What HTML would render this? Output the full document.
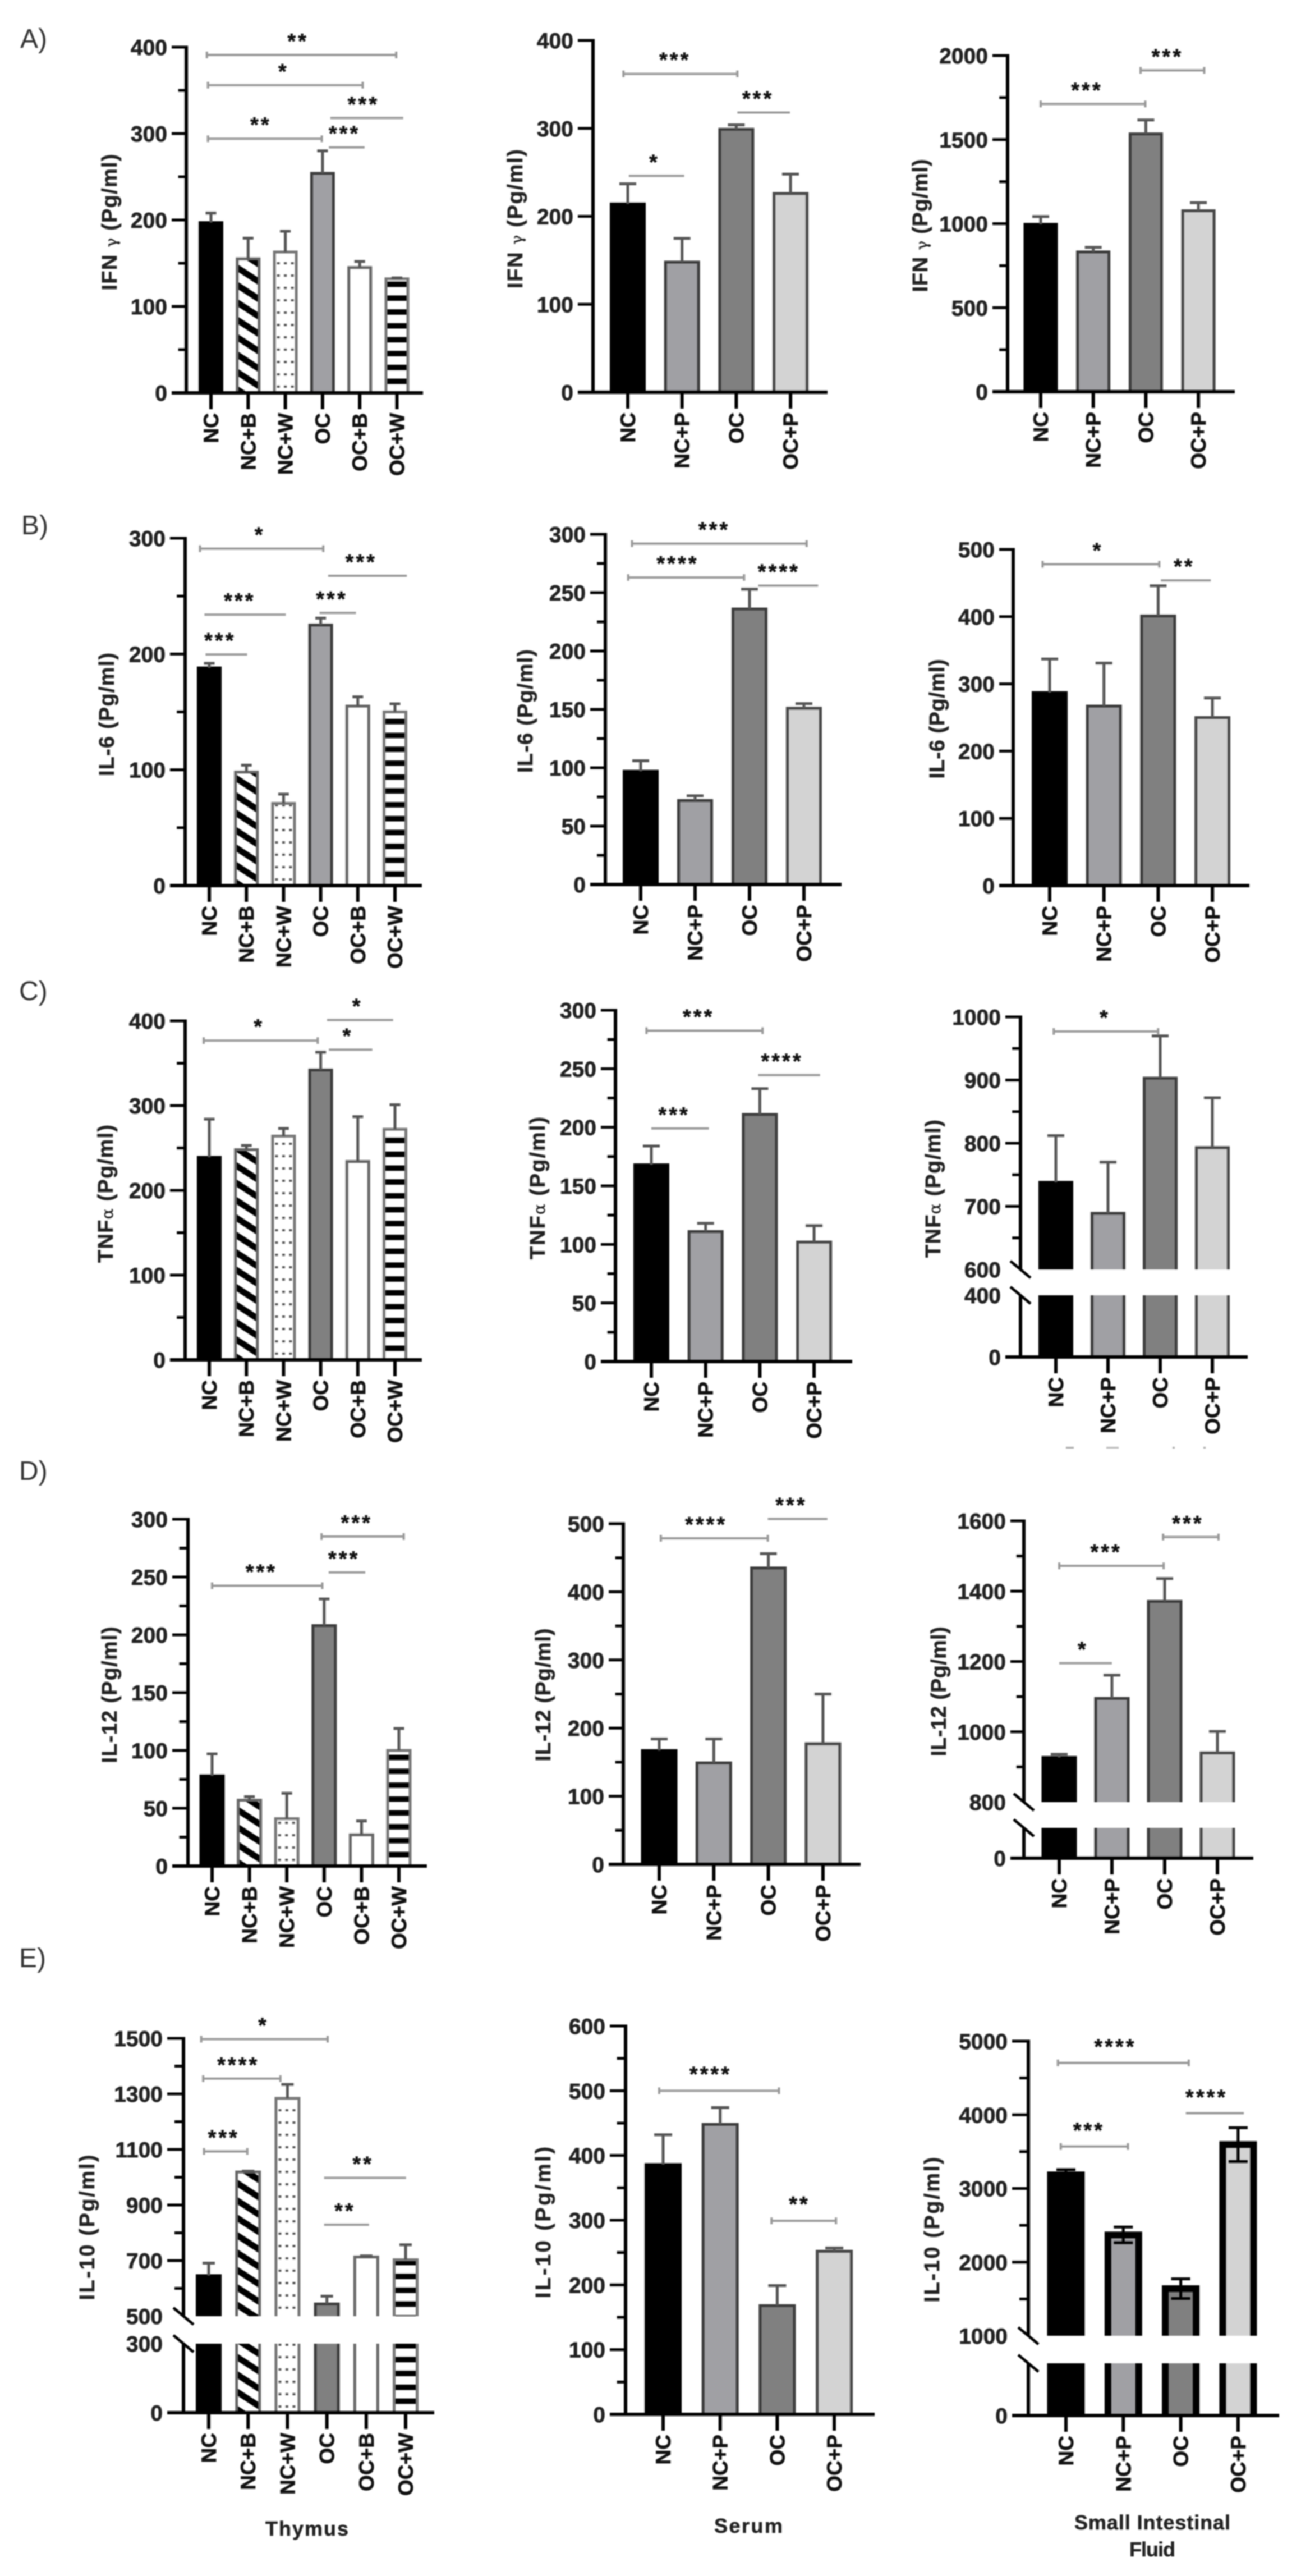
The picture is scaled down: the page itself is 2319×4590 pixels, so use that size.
<!DOCTYPE html>
<html lang="en">
<head>
<meta charset="utf-8">
<title>Cytokine levels by group</title>
<style>
html,body{margin:0;padding:0;background:#fff;}
#figure{display:block;filter:blur(1.1px);}
text{font-family:"Liberation Sans",sans-serif;}
</style>
</head>
<body>
<svg id="figure" xmlns="http://www.w3.org/2000/svg" width="2319" height="4590" viewBox="0 0 2319 4590">
  <rect x="0" y="0" width="2319" height="4590" fill="#ffffff"/>
  <defs id="patterns"></defs>
  <text x="36" y="85" font-size="48" fill="#333">A)</text>
  <text x="38" y="952" font-size="48" fill="#333">B)</text>
  <text x="34" y="1782" font-size="48" fill="#333">C)</text>
  <text x="34" y="2637" font-size="48" fill="#333">D)</text>
  <text x="34" y="3505" font-size="48" fill="#333">E)</text>
  <text x="547" y="4518" font-size="36" font-weight="bold" text-anchor="middle" textLength="148" stroke="#222" stroke-width="0.5" fill="#222">Thymus</text>
  <text x="1334" y="4513" font-size="36" font-weight="bold" text-anchor="middle" textLength="122" stroke="#222" stroke-width="0.5" fill="#222">Serum</text>
  <text x="2054" y="4507" font-size="36" font-weight="bold" text-anchor="middle" textLength="278" stroke="#222" stroke-width="0.5" fill="#222">Small Intestinal</text>
  <text x="2054" y="4555" font-size="36" font-weight="bold" text-anchor="middle" textLength="82" stroke="#222" stroke-width="0.5" fill="#222">Fluid</text>
  <rect x="1900" y="2578" width="14" height="3" fill="#aaa"/>
  <rect x="1972" y="2578" width="22" height="3" fill="#bbb"/>
  <rect x="2090" y="2578" width="4" height="3" fill="#aaa"/>
  <rect x="2145" y="2578" width="4" height="3" fill="#aaa"/>
</svg>
<script>
/* ---------- shared categories ---------- */
const sixGroups = ['NC','NC+B','NC+W','OC','OC+B','OC+W'];
const fourGroups = ['NC','NC+P','OC','OC+P'];

/* ---------- row A: IFN gamma ---------- */
const a1Values = [197,155,163,254,145,132];
const a1Errors = [11,24,24,26,7,1];
const a1Ticks = [0,100,200,300,400];
const a1Minor = [50,150,250,350];
const a1Brackets = [[-0.11,4.98,391,'**',2.34,1],[-0.08,4.08,356,'*',1.95,1],[3.21,5.17,318,'***',4.1,0],[3.17,4.13,284,'***',3.59,0],[-0.08,2.98,294,'**',1.34,1]];

const a2Values = [214,148,299,226];
const a2Errors = [23,27,5,22];
const a2Ticks = [0,100,200,300,400];
const a2Minor = [];
const a2Brackets = [[-0.08,2.02,362,'***',0.87,1],[2.02,2.99,318,'***',2.4,0],[0.02,1.04,246,'*',0.49,0]];

const a3Values = [996,832,1534,1077];
const a3Errors = [46,27,83,48];
const a3Ticks = [0,500,1000,1500,2000];
const a3Minor = [250,750,1250,1750];
const a3Brackets = [[1.9,3.11,1912,'***',2.41,1],[0,1.99,1712,'***',0.88,1]];

/* ---------- row B: IL-6 ---------- */
const b1Values = [188,98,71,225,155,150];
const b1Errors = [4,6,8,6,8,7];
const b1Ticks = [0,100,200,300];
const b1Minor = [50,150,250];
const b1Brackets = [[-0.25,3.07,291,'*',1.36,1],[3.2,5.32,267.5,'***',4.09,0],[-0.13,2.06,234,'***',0.82,0],[2.97,3.95,235.5,'***',3.3,0],[-0.1,1.02,199.6,'***',0.29,0]];

const b2Values = [97,72,236,151];
const b2Errors = [9,4,17,4];
const b2Ticks = [0,50,100,150,200,250,300];
const b2Minor = [25,75,125,175,225,275];
const b2Brackets = [[-0.16,3.05,292,'***',1.35,1],[-0.23,1.9,263,'****',0.68,1],[2.16,3.26,256,'****',2.54,0]];

const b3Values = [287,267,401,250];
const b3Errors = [50,64,45,29];
const b3Ticks = [0,100,200,300,400,500];
const b3Minor = [];
const b3Brackets = [[-0.13,2.02,478,'*',0.89,1],[2.05,2.97,454,'**',2.48,0]];

/* ---------- row C: TNF alpha ---------- */
const c1Values = [239,248,264,342,234,272];
const c1Errors = [45,5,9,21,53,29];
const c1Ticks = [0,100,200,300,400];
const c1Minor = [50,150,250,350];
const c1Brackets = [[-0.15,2.92,376.7,'*',1.34,1],[3.17,4.95,401,'*',3.99,0],[3.22,4.39,366,'*',3.73,0]];

const c2Values = [168,111,211,102];
const c2Errors = [16,7,22,14];
const c2Ticks = [0,50,100,150,200,250,300];
const c2Minor = [25,75,125,175,225,275];
const c2Brackets = [[-0.09,2.05,282.5,'***',0.87,1],[1.97,3.11,244.6,'****',2.41,0],[0,1.06,199,'***',0.42,0]];

const c3Values = [738,689,903,793];
const c3Errors = [74,81,67,79];
const c3Ticks = [0,400,600,700,800,900,1000];
const c3Minor = [650,750,850,950];
const c3Brackets = [[-0.04,1.96,977,'*',0.94,1]];

/* ---------- row D: IL-12 ---------- */
const d1Values = [78,57,41,208,27,100];
const d1Errors = [19,3,22,23,12,19];
const d1Ticks = [0,50,100,150,200,250,300];
const d1Minor = [25,75,125,175,225,275];
const d1Brackets = [[0,2.95,242.5,'***',1.32,1],[2.93,5.13,285,'***',3.87,1],[3.12,4.1,254,'***',3.53,0]];

const d2Values = [167,149,435,177];
const d2Errors = [17,35,21,73];
const d2Ticks = [0,100,200,300,400,500];
const d2Minor = [50,150,250,350,450];
const d2Brackets = [[0.03,1.99,478.6,'****',0.86,1],[1.99,3.08,507,'***',2.42,0]];

const d3Values = [927,1095,1371,940];
const d3Errors = [9,66,65,61];
const d3Ticks = [0,800,1000,1200,1400,1600];
const d3Minor = [900,1100,1300,1500];
const d3Brackets = [[1.97,3.02,1554,'***',2.44,1],[0,1.98,1472,'***',0.89,1],[0,1,1195,'*',0.45,0]];

/* ---------- row E: IL-10 ---------- */
const e1Values = [646,1019,1284,544,713,703];
const e1Errors = [45,3,50,28,4,54];
const e1Ticks = [0,300,500,700,900,1100,1300,1500];
const e1Minor = [600,800,1000,1200,1400];
const e1Brackets = [[-0.19,3.02,1497,'*',1.39,1],[-0.14,1.82,1355,'****',0.75,1],[-0.12,0.98,1093,'***',0.38,1],[2.93,5.01,998,'**',3.92,0],[2.93,4.07,829,'**',3.46,0]];

const e2Values = [386,448,168,252];
const e2Errors = [46,26,31,5];
const e2Ticks = [0,100,200,300,400,500,600];
const e2Minor = [50,150,250,350,450,550];
const e2Brackets = [[-0.07,2.03,500,'****',0.83,1],[1.9,3.03,299,'**',2.39,1]];

const e3Values = [3185,2370,1640,3596];
const e3Errors = [70,106,133,229];
const e3Ticks = [0,1000,2000,3000,4000,5000];
const e3Minor = [1500,2500,3500,4500];
const e3Brackets = [[-0.14,2.14,4705,'****',0.86,1],[2.09,3.1,4022,'****',2.45,0],[-0.09,1.08,3570,'***',0.4,1]];

/* ---------- layout (pixels live here, not in the data) ---------- */
const fourStyles = ['black','mid','dark','light'];
const sixMid = ['black','hatch','dots','mid','white','stripes'];
const sixDark = ['black','hatch','dots','dark','white','stripes'];

const panels = [
 {id:'a1',title:'IFN γ (Pg/ml)',values:a1Values,errors:a1Errors,ticks:a1Ticks,minor:a1Minor,brackets:a1Brackets,cats:sixGroups,styles:sixMid,axisX:332,tickLeft:306,xEnd:754,firstX:376,pitch:66.3,barW:44,capW:19,titleX:195,titleY:396,titleLen:243,yAxis:{top:[400,84],bottom:[0,700]}},
 {id:'a2',title:'IFN γ (Pg/ml)',values:a2Values,errors:a2Errors,ticks:a2Ticks,minor:a2Minor,brackets:a2Brackets,cats:fourGroups,styles:fourStyles,axisX:1057,tickLeft:1030,xEnd:1475,firstX:1119,pitch:96.7,barW:64,capW:30,titleX:918,titleY:390,titleLen:248,yAxis:{top:[400,72],bottom:[0,699]}},
 {id:'a3',title:'IFN γ (Pg/ml)',values:a3Values,errors:a3Errors,ticks:a3Ticks,minor:a3Minor,brackets:a3Brackets,cats:fourGroups,styles:fourStyles,axisX:1796,tickLeft:1769,xEnd:2201,firstX:1855,pitch:93.7,barW:61,capW:30,titleX:1640,titleY:402,titleLen:237,yAxis:{top:[2000,99],bottom:[0,698]}},
 {id:'b1',title:'IL-6 (Pg/ml)',values:b1Values,errors:b1Errors,ticks:b1Ticks,minor:b1Minor,brackets:b1Brackets,cats:sixGroups,styles:sixMid,axisX:330,tickLeft:303,xEnd:752,firstX:373,pitch:66.2,barW:44,capW:19,titleX:190,titleY:1273,titleLen:220,yAxis:{top:[300,959],bottom:[0,1578]}},
 {id:'b2',title:'IL-6 (Pg/ml)',values:b2Values,errors:b2Errors,ticks:b2Ticks,minor:b2Minor,brackets:b2Brackets,cats:fourGroups,styles:fourStyles,axisX:1079,tickLeft:1052,xEnd:1500,firstX:1142,pitch:97,barW:64,capW:30,titleX:936,titleY:1267,titleLen:220,yAxis:{top:[300,952],bottom:[0,1576]}},
 {id:'b3',title:'IL-6 (Pg/ml)',values:b3Values,errors:b3Errors,ticks:b3Ticks,minor:b3Minor,brackets:b3Brackets,cats:fourGroups,styles:fourStyles,axisX:1806,tickLeft:1781,xEnd:2227,firstX:1871,pitch:96.7,barW:64,capW:30,titleX:1670,titleY:1281,titleLen:213,yAxis:{top:[500,979],bottom:[0,1578]}},
 {id:'c1',title:'TNFα (Pg/ml)',values:c1Values,errors:c1Errors,ticks:c1Ticks,minor:c1Minor,brackets:c1Brackets,cats:sixGroups,styles:sixDark,axisX:330,tickLeft:303,xEnd:752,firstX:373,pitch:66.2,barW:44,capW:19,titleX:188,titleY:2127,titleLen:246,yAxis:{top:[400,1819],bottom:[0,2423]}},
 {id:'c2',title:'TNFα (Pg/ml)',values:c2Values,errors:c2Errors,ticks:c2Ticks,minor:c2Minor,brackets:c2Brackets,cats:fourGroups,styles:fourStyles,axisX:1097,tickLeft:1071,xEnd:1519,firstX:1161,pitch:96.7,barW:64,capW:30,titleX:958,titleY:2117,titleLen:254,yAxis:{top:[300,1800],bottom:[0,2426]}},
 {id:'c3',title:'TNFα (Pg/ml)',values:c3Values,errors:c3Errors,ticks:c3Ticks,minor:c3Minor,brackets:c3Brackets,cats:fourGroups,styles:fourStyles,axisX:1819,tickLeft:1792,xEnd:2224,firstX:1882,pitch:93,barW:62,capW:30,titleX:1663,titleY:2118,titleLen:246,yAxis:{top:[1000,1812],hi:[600,2262],lo:[400,2308],bottom:[0,2418]}},
 {id:'d1',title:'IL-12 (Pg/ml)',values:d1Values,errors:d1Errors,ticks:d1Ticks,minor:d1Minor,brackets:d1Brackets,cats:sixGroups,styles:sixDark,axisX:335,tickLeft:307,xEnd:761,firstX:378,pitch:66.6,barW:45,capW:19,titleX:195,titleY:3020,titleLen:243,yAxis:{top:[300,2707],bottom:[0,3325]}},
 {id:'d2',title:'IL-12 (Pg/ml)',values:d2Values,errors:d2Errors,ticks:d2Ticks,minor:d2Minor,brackets:d2Brackets,cats:fourGroups,styles:fourStyles,axisX:1111,tickLeft:1085,xEnd:1534,firstX:1175,pitch:97.3,barW:65,capW:30,titleX:968,titleY:3020,titleLen:237,yAxis:{top:[500,2715],bottom:[0,3322]}},
 {id:'d3',title:'IL-12 (Pg/ml)',values:d3Values,errors:d3Errors,ticks:d3Ticks,minor:d3Minor,brackets:d3Brackets,cats:fourGroups,styles:fourStyles,axisX:1825,tickLeft:1801,xEnd:2234,firstX:1888,pitch:94,barW:63,capW:30,titleX:1673,titleY:3014,titleLen:231,yAxis:{top:[1600,2710],hi:[800,3211],lo:[400,3257],bottom:[0,3311]}},
 {id:'e1',title:'IL-10 (Pg/ml)',values:e1Values,errors:e1Errors,ticks:e1Ticks,minor:e1Minor,brackets:e1Brackets,cats:sixGroups,styles:sixDark,axisX:327,tickLeft:298,xEnd:774,firstX:372,pitch:70.2,barW:46,capW:22,titleX:155,titleY:3969,titleLen:259,yAxis:{top:[1500,3632],hi:[500,4127],lo:[300,4176],bottom:[0,4299]}},
 {id:'e2',title:'IL-10 (Pg/ml)',values:e2Values,errors:e2Errors,ticks:e2Ticks,minor:e2Minor,brackets:e2Brackets,cats:fourGroups,styles:fourStyles,axisX:1115,tickLeft:1087,xEnd:1559,firstX:1182,pitch:101.7,barW:66,capW:32,titleX:968,titleY:3960,titleLen:270,starOff:38,yAxis:{top:[600,3610],bottom:[0,4302]}},
 {id:'e3',title:'IL-10 (Pg/ml)',values:e3Values,errors:e3Errors,ticks:e3Ticks,minor:e3Minor,brackets:e3Brackets,cats:fourGroups,styles:fourStyles,axisX:1833,tickLeft:1804,xEnd:2280,firstX:1900,pitch:102.3,barW:67,capW:34,titleX:1661,titleY:3973,titleLen:259,starOff:37,barStroke:12,barStrokeColor:'#000',errColor:'#000',twoSidedErrors:true,yAxis:{top:[5000,3637],hi:[1000,4162],lo:[700,4211],bottom:[0,4304]}}
];

const barLook = {
  black:{fill:'#000',stroke:'#000'},
  mid:{fill:'#a0a0a4',stroke:'#3c3c3c'},
  dark:{fill:'#808080',stroke:'#3c3c3c'},
  light:{fill:'#d3d3d3',stroke:'#484848'},
  white:{fill:'#fff',stroke:'#666'},
  hatch:{stroke:'#666'},
  dots:{stroke:'#777'},
  stripes:{stroke:'#777'}
};

const SVGNS = 'http://www.w3.org/2000/svg';
const root = document.getElementById('figure');
const defs = document.getElementById('patterns');

function mk(tag, attrs, parent){
  const el = document.createElementNS(SVGNS, tag);
  for (const k in attrs) el.setAttribute(k, attrs[k]);
  parent.appendChild(el);
  return el;
}

function makeYScale(axis){
  return function(v){
    const segs = axis.hi ? [[axis.top,axis.hi],[axis.lo,axis.bottom]] : [[axis.top,axis.bottom]];
    let seg = segs[0];
    if (axis.hi && v < axis.hi[0]) seg = segs[1];
    const a = seg[0], b = seg[1];
    return b[1] + (v - b[0]) * (a[1] - b[1]) / (a[0] - b[0]);
  };
}

function addPatterns(p, y0, xScale){
  const hatch = mk('pattern',{id:p.id+'-hatch',patternUnits:'userSpaceOnUse',width:120,height:26,patternTransform:'translate('+xScale(1)+','+y0+') rotate(33)'},defs);
  mk('rect',{x:0,y:0,width:120,height:26,fill:'#fff'},hatch);
  mk('rect',{x:0,y:0,width:120,height:11,fill:'#000'},hatch);
  const dots = mk('pattern',{id:p.id+'-dots',patternUnits:'userSpaceOnUse',x:xScale(2)-p.barW/2+3,y:y0,width:12.5,height:22},defs);
  mk('rect',{x:0,y:0,width:12.5,height:22,fill:'#fff'},dots);
  mk('rect',{x:4,y:9,width:5,height:4,fill:'#555'},dots);
  const stripes = mk('pattern',{id:p.id+'-stripes',patternUnits:'userSpaceOnUse',x:0,y:y0+9,width:10,height:24.7},defs);
  mk('rect',{x:0,y:0,width:10,height:24.7,fill:'#fff'},stripes);
  mk('rect',{x:0,y:15,width:10,height:9.7,fill:'#000'},stripes);
}

function drawPanel(p){
  const g = mk('g',{},root);
  
  

  const yScale = makeYScale(p.yAxis);
  const xScale = function(i){ return p.firstX + p.pitch * i; };
  const y0 = yScale(0);
  const yTop = p.yAxis.top[1];
  const sw = p.barStroke || 5;
  const starOff = p.starOff || 33;
  const majorLen = p.axisX - p.tickLeft;
  addPatterns(p, y0, xScale);

  /* bars */
  p.values.forEach(function(v,i){
    const cx = xScale(i);
    const left = cx - p.barW/2 + sw/2;
    const right = cx + p.barW/2 - sw/2;
    const styleName = p.styles[i];
    const look = barLook[styleName];
    const fill = look.fill || ('url(#' + p.id + '-' + styleName + ')');
    const edge = p.barStrokeColor || look.stroke;
    const bg = mk('g',{},g);
    
    
    const top = yScale(v);
    if (p.yAxis.hi){
      const upperBase = p.yAxis.hi[1];
      const lowerTop = p.yAxis.lo[1];
      const up = mk('path',{d:'M'+left+' '+upperBase+'V'+top+'H'+right+'V'+upperBase,fill:fill,stroke:edge,'stroke-width':sw},bg);
      
      
      const lowFill = mk('rect',{x:left,y:lowerTop,width:right-left,height:y0-lowerTop,fill:fill},bg);
      
      
      const low = mk('path',{d:'M'+left+' '+y0+'V'+lowerTop+'M'+right+' '+lowerTop+'V'+y0,stroke:edge,'stroke-width':sw,fill:'none'},bg);
      
      
    } else {
      const body = mk('path',{d:'M'+left+' '+y0+'V'+top+'H'+right+'V'+y0,fill:fill,stroke:edge,'stroke-width':sw},bg);
      
      
    }
  });

  /* error bars */
  p.errors.forEach(function(e,i){
    const cx = xScale(i);
    const v = p.values[i];
    const yHigh = yScale(v + e);
    const yLow = p.twoSidedErrors ? yScale(v - e) : yScale(v);
    let d = 'M'+cx+' '+yLow+'V'+yHigh+'M'+(cx-p.capW/2)+' '+yHigh+'H'+(cx+p.capW/2);
    if (p.twoSidedErrors) d += 'M'+(cx-p.capW/2)+' '+yLow+'H'+(cx+p.capW/2);
    const eb = mk('path',{d:d,stroke:p.errColor||'#555',fill:'none','stroke-width':5},g);
    
    
  });

  /* y axis */
  if (p.yAxis.hi){
    const hiY = p.yAxis.hi[1];
    const loY = p.yAxis.lo[1];
    const axisUp = mk('line',{x1:p.axisX,x2:p.axisX,y1:yTop-2.5,y2:hiY,stroke:'#000','stroke-width':6},g);
    
    
    const axisLow = mk('line',{x1:p.axisX,x2:p.axisX,y1:loY,y2:y0,stroke:'#000','stroke-width':6},g);
    
    
    [hiY,loY].forEach(function(c){
      const slash = mk('line',{x1:p.axisX-18,y1:c-15,x2:p.axisX+18,y2:c+15,stroke:'#000','stroke-width':5},g);
      
      
    });
  } else {
    const axis = mk('line',{x1:p.axisX,x2:p.axisX,y1:yTop-2.5,y2:y0,stroke:'#000','stroke-width':6},g);
    
    
  }

  /* y ticks and labels */
  p.ticks.forEach(function(t){
    const y = yScale(t);
    const isBreak = p.yAxis.hi && (t === p.yAxis.hi[0] || t === p.yAxis.lo[0]);
    if (!isBreak){
      const tk = mk('line',{x1:p.tickLeft,x2:p.axisX,y1:y,y2:y,stroke:'#000','stroke-width':5},g);
      
      
    }
    const lb = mk('text',{x:p.tickLeft-8,y:y+14,'text-anchor':'end','font-size':39,'font-weight':'bold',fill:'#222',stroke:'#222','stroke-width':0.7},g);
    lb.textContent = String(t);
    
    
  });
  p.minor.forEach(function(t){
    const y = yScale(t);
    const mt = mk('line',{x1:p.axisX-majorLen*0.55,x2:p.axisX,y1:y,y2:y,stroke:'#000','stroke-width':5},g);
    
    
  });

  /* x axis */
  const xa = mk('line',{x1:p.tickLeft,x2:p.xEnd,y1:y0,y2:y0,stroke:'#000','stroke-width':6},g);
  
  
  p.cats.forEach(function(c,i){
    const cx = xScale(i);
    const tk = mk('line',{x1:cx,x2:cx,y1:y0,y2:y0+29,stroke:'#000','stroke-width':6},g);
    
    
    const lx = cx + 13;
    const ly = y0 + 36;
    const lb = mk('text',{x:lx,y:ly,transform:'rotate(-90 '+lx+' '+ly+')','text-anchor':'end','font-size':37,'font-weight':'bold',fill:'#111',stroke:'#111','stroke-width':0.7},g);
    lb.textContent = c;
    
    
  });

  /* y-axis title */
  const tx = p.titleX + 13;
  const ty = p.titleY;
  const title = mk('text',{x:tx,y:ty,transform:'rotate(-90 '+tx+' '+ty+')','text-anchor':'middle','font-size':38,'font-weight':'bold',fill:'#222',stroke:'#222','stroke-width':0.5,textLength:p.titleLen},g);
  
  
  p.title.split(/([γα])/).forEach(function(part){
    if (!part) return;
    const sp = mk('tspan',{},title);
    sp.textContent = part;
    if (part === 'γ' || part === 'α'){
      sp.setAttribute('font-weight','normal');
      sp.setAttribute('font-size','28');
      sp.setAttribute('style','font-family:"DejaVu Serif",serif');
    }
  });

  /* significance brackets */
  p.brackets.forEach(function(b){
    const x1 = xScale(b[0]);
    const x2 = xScale(b[1]);
    const y = yScale(b[2]);
    let d = 'M'+x1+' '+y+'H'+x2;
    if (b[5]) d += 'M'+x1+' '+(y-6)+'V'+(y+6)+'M'+x2+' '+(y-6)+'V'+(y+6);
    const br = mk('path',{d:d,stroke:'#999',fill:'none','stroke-width':4},g);
    
    
    const st = mk('text',{x:xScale(b[4]),y:y-starOff+21,'text-anchor':'middle','font-size':38,'font-weight':'bold','letter-spacing':4,fill:'#111',stroke:'#111','stroke-width':0.6},g);
    st.textContent = b[3];
    
    
  });
}

panels.forEach(drawPanel);
</script>
</body>
</html>
